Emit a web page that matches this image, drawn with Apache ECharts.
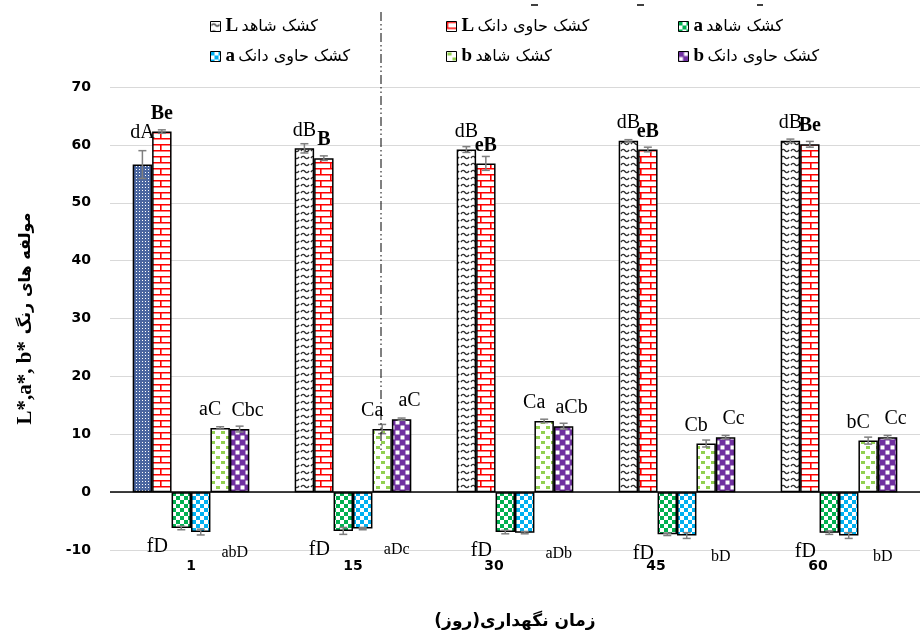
<!DOCTYPE html>
<html>
<head>
<meta charset="utf-8">
<script src="https://cdn.jsdelivr.net/npm/echarts@6/dist/echarts.min.js"></script>
<style>
  html, body { margin: 0; padding: 0; background: #fff; }
  #chart { width: 920px; height: 635px; }
</style>
</head>
<body>
<div id="chart"></div>
<script>
// روزهای نگهداری
var days = ['1', '15', '30', '45', '60'];
var seriesNames = ['کشک شاهد L', 'کشک حاوی دانک L', 'کشک شاهد a', 'کشک حاوی دانک a', 'کشک شاهد b', 'کشک حاوی دانک b'];

// میانگین ها
var controlL = [56.6, 59.4, 59.2, 60.7, 60.7];
var donakL   = [62.3, 57.7, 56.8, 59.2, 60.1];
var controlA = [-6.2, -6.7, -6.9, -7.3, -7.0];
var donakA   = [-6.9, -6.3, -7.0, -7.5, -7.5];
var controlB = [11.1, 10.9, 12.3, 8.4, 8.9];
var donakB   = [10.9, 12.6, 11.4, 9.5, 9.5];

// انحراف معیار
var sdControlL = [2.4, 0.8, 0.5, 0.2, 0.3];
var sdDonakL   = [0.3, 0.4, 1.2, 0.4, 0.5];
var sdControlA = [0.3, 0.6, 0.3, 0.2, 0.3];
var sdDonakA   = [0.5, 0.2, 0.2, 0.5, 0.5];
var sdControlB = [0.2, 0.8, 0.3, 0.6, 0.6];
var sdDonakB   = [0.5, 0.2, 0.5, 0.3, 0.3];

// حروف معنی داری
var labControlL = ['dA', 'dB', 'dB', 'dB', 'dB'];
var labDonakL   = ['Be', 'B', 'eB', 'eB', 'Be'];
var labControlA = ['fD', 'fD', 'fD', 'fD', 'fD'];
var labDonakA   = ['abD', 'aDc', 'aDb', 'bD', 'bD'];
var labControlB = ['aC', 'Ca', 'Ca', 'Cb', 'bC'];
var labDonakB   = ['Cbc', 'aC', 'aCb', 'Cc', 'Cc'];

var values = [controlL, donakL, controlA, donakA, controlB, donakB];
var sds = [sdControlL, sdDonakL, sdControlA, sdDonakA, sdControlB, sdDonakB];

function pattern(w, h, bg, draw) {
    var c = document.createElement('canvas');
    c.width = w; c.height = h;
    var ctx = c.getContext('2d');
    ctx.fillStyle = bg;
    ctx.fillRect(0, 0, w, h);
    draw(ctx);
    return { image: c, repeat: 'repeat' };
}

var wavePat = pattern(10, 7, '#fff', function (ctx) {
    ctx.strokeStyle = '#333'; ctx.lineWidth = 1.4;
    ctx.beginPath();
    ctx.moveTo(1, 4); ctx.quadraticCurveTo(3, 1, 5, 3.5); ctx.quadraticCurveTo(7, 6, 9, 3);
    ctx.stroke();
});
var brickPat = pattern(20, 12, '#fff', function (ctx) {
    ctx.strokeStyle = '#ff0000'; ctx.lineWidth = 1.6;
    ctx.beginPath();
    ctx.moveTo(0, 0.8); ctx.lineTo(20, 0.8);
    ctx.moveTo(0, 6.8); ctx.lineTo(20, 6.8);
    ctx.moveTo(0.8, 0); ctx.lineTo(0.8, 6.8);
    ctx.moveTo(10.8, 6.8); ctx.lineTo(10.8, 12);
    ctx.stroke();
});
function checker(color) {
    return pattern(8, 8, '#fff', function (ctx) {
        ctx.fillStyle = color;
        ctx.fillRect(0, 0, 4, 4); ctx.fillRect(4, 4, 4, 4);
    });
}
var dotPat = pattern(10, 10, '#fff', function (ctx) {
    ctx.fillStyle = '#92d050';
    ctx.fillRect(1, 1, 4, 3); ctx.fillRect(6, 6, 4, 3);
});
var purplePat = pattern(10, 10, '#7030a0', function (ctx) {
    ctx.fillStyle = '#fff';
    ctx.fillRect(5.5, 0.5, 4, 4); ctx.fillRect(0.5, 5.5, 4, 4);
});
var bluePat = pattern(3, 3, '#4a66a0', function (ctx) {
    ctx.fillStyle = '#fff';
    ctx.fillRect(1, 1, 1, 1);
});

var patterns = [wavePat, brickPat, checker('#00b050'), checker('#00b0f0'), dotPat, purplePat];
var labels = [labControlL, labDonakL, labControlA, labDonakA, labControlB, labDonakB];
var catGap = 0.28;

var labelStyles = [
    { position: 'top', distance: 8, offset: [0, 0], fontSize: 20, fontWeight: 'normal' },
    { position: 'top', distance: 8, offset: [0, 0], fontSize: 20, fontWeight: 'bold' },
    { position: 'bottom', distance: 9, offset: [-24, 0], fontSize: 20, fontWeight: 'normal' },
    { position: 'bottom', distance: 13, offset: [34, 0], fontSize: 16, fontWeight: 'normal' },
    { position: 'top', distance: 8, offset: [-10, 0], fontSize: 20, fontWeight: 'normal' },
    { position: 'top', distance: 8, offset: [8, 0], fontSize: 20, fontWeight: 'normal' }
];

var barSeries = seriesNames.map(function (name, k) {
    var ls = labelStyles[k];
    return {
        name: name,
        type: 'bar',
        barGap: 0,
        barCategoryGap: (catGap * 100) + '%',
        itemStyle: { color: patterns[k], borderColor: '#000', borderWidth: 1.5 },
        label: {
            show: true,
            position: ls.position,
            distance: ls.distance,
            offset: ls.offset,
            fontFamily: 'Liberation Serif',
            fontSize: ls.fontSize,
            fontWeight: ls.fontWeight,
            color: '#000',
            formatter: function (p) { return labels[k][p.dataIndex]; }
        },
        data: values[k].map(function (v, i) {
            if (k === 0 && i === 0) {
                return { value: v, itemStyle: { color: bluePat }, label: { distance: 22 } };
            }
            return v;
        })
    };
});

barSeries[0].markLine = {
    silent: true,
    symbol: 'none',
    label: { show: false },
    lineStyle: { color: '#000', width: 1.5, type: 'solid' },
    data: [{ yAxis: 0 }]
};

var errData = [];
values.forEach(function (arr, k) {
    arr.forEach(function (v, i) { errData.push([i, v, sds[k][i], k]); });
});

var errSeries = {
    type: 'custom',
    silent: true,
    z: 5,
    encode: { x: 0, y: 1 },
    data: errData,
    renderItem: function (params, api) {
        var cat = api.value(0), val = api.value(1), sd = api.value(2), k = api.value(3);
        var c = api.coord([cat, val]);
        var band = api.size([1, 0])[0];
        var total = band * (1 - catGap);
        var bw = total / 6;
        var x = c[0] - total / 2 + bw * (k + 0.5);
        var hi = api.coord([cat, val + sd])[1];
        var lo = api.coord([cat, val - sd])[1];
        var st = { stroke: '#7f7f7f', lineWidth: 1.5 };
        return {
            type: 'group',
            children: [
                { type: 'line', shape: { x1: x, y1: hi, x2: x, y2: lo }, style: st },
                { type: 'line', shape: { x1: x - 4, y1: hi, x2: x + 4, y2: hi }, style: st },
                { type: 'line', shape: { x1: x - 4, y1: lo, x2: x + 4, y2: lo }, style: st }
            ]
        };
    }
};

var legendPos = [[205, 12], [441, 12], [673, 12], [205, 42], [441, 42], [673, 42]];
var legends = seriesNames.map(function (name, i) {
    return {
        data: [name],
        left: legendPos[i][0],
        top: legendPos[i][1],
        icon: 'rect',
        itemWidth: 10,
        itemHeight: 10,
        selectedMode: false,
        itemStyle: { borderColor: '#000', borderWidth: 1 },
        formatter: function (n) {
            var parts = n.split(' ');
            var letter = parts.pop();
            return '{b|' + letter + '} {t|' + parts.join(' ') + '}';
        },
        textStyle: {
            rich: {
                b: { fontFamily: 'Liberation Serif', fontWeight: 'bold', fontSize: 19, color: '#000' },
                t: { fontFamily: 'DejaVu Sans', fontSize: 16, color: '#000' }
            }
        }
    };
});

var chart = echarts.init(document.getElementById('chart'));
chart.setOption({
    animation: false,
    backgroundColor: '#fff',
    legend: legends,
    grid: { left: 110, top: 87, width: 820, bottom: 85, containLabel: false },
    xAxis: {
        type: 'category',
        data: days,
        axisLine: { show: false },
        axisTick: { show: false },
        axisLabel: {
            margin: 9,
            formatter: function (v, i) { return i >= 2 ? '{s|' + v + '}' : '{c|' + v + '}'; },
            rich: {
                c: { fontFamily: 'DejaVu Sans', fontWeight: 'bold', fontSize: 14, color: '#000' },
                s: { fontFamily: 'DejaVu Sans', fontWeight: 'bold', fontSize: 14, color: '#000', padding: [0, 42, 0, 0] }
            }
        },
        name: 'زمان نگهداری(روز)\u200F',
        nameLocation: 'middle',
        nameGap: 63,
        nameTextStyle: { fontFamily: 'DejaVu Sans', fontWeight: 'bold', fontSize: 17, color: '#000' }
    },
    yAxis: {
        type: 'value',
        min: -10,
        max: 70,
        interval: 10,
        axisLine: { show: false },
        axisTick: { show: false },
        splitLine: { lineStyle: { color: '#d9d9d9', width: 1 } },
        axisLabel: { fontFamily: 'DejaVu Sans', fontWeight: 'bold', fontSize: 14, color: '#000', margin: 19 },
        name: '{l|L*,a*, b*}  {p|مولفه های رنگ}',
        nameLocation: 'middle',
        nameRotate: 90,
        nameGap: 74,
        nameTextStyle: {
            rich: {
                l: { fontFamily: 'Liberation Serif', fontWeight: 'bold', fontSize: 21, color: '#000' },
                p: { fontFamily: 'DejaVu Sans', fontWeight: 'bold', fontSize: 16, color: '#000' }
            }
        }
    },
    graphic: [
        { type: 'line', shape: { x1: 381, y1: 12, x2: 381, y2: 450 }, style: { stroke: '#000', lineWidth: 1, lineDash: [9, 3, 1.5, 3, 1.5, 3] }, z: 10 },
        { type: 'line', shape: { x1: 531, y1: 5, x2: 538, y2: 5 }, style: { stroke: '#000', lineWidth: 1.5 } },
        { type: 'line', shape: { x1: 637, y1: 5, x2: 644, y2: 5 }, style: { stroke: '#000', lineWidth: 1.5 } },
        { type: 'line', shape: { x1: 757, y1: 5, x2: 763, y2: 5 }, style: { stroke: '#000', lineWidth: 1.5 } }
    ],
    series: barSeries.concat([errSeries])
});
</script>
</body>
</html>
